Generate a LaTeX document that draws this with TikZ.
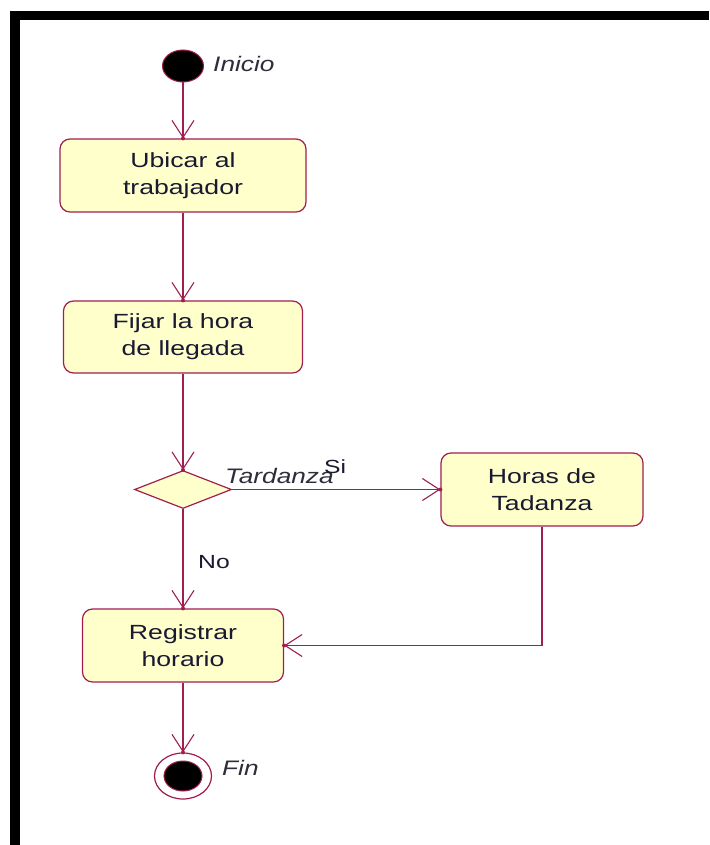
\documentclass[tikz,border=0pt]{standalone}
\usepackage{fontspec}
\setmainfont{Liberation Sans}
\newfontfamily\boxfont{Liberation Sans}[FakeStretch=1.3]
\newfontfamily\tagfont{Liberation Sans}[FakeStretch=1.25]
\usetikzlibrary{arrows.meta,shapes.geometric}
\definecolor{umlline}{RGB}{160,30,80}
\definecolor{umlfill}{RGB}{255,255,204}
\definecolor{umltext}{RGB}{25,25,50}
\definecolor{tagtext}{RGB}{45,45,60}
\begin{document}
\begin{tikzpicture}[x=1pt,y=-1pt,
  flow/.style={draw=umlline, line width=1.3pt,
    -{Straight Barb[length=17pt,width=22pt,line width=1.1pt]}},
  tipdot/.style={fill=umlline},
  action/.style={draw=umlline, line width=1.2pt, fill=umlfill,
    rounded corners=10pt, align=center, inner sep=0pt,
    font=\boxfont\fontsize{20.5pt}{27pt}\selectfont, text=umltext},
  decision/.style={diamond, draw=umlline, line width=1.2pt, fill=umlfill,
    minimum width=97pt, minimum height=38pt, inner sep=0pt},
  startnode/.style={ellipse, fill=black, draw=umlline, line width=1pt,
    minimum width=41pt, minimum height=32pt, inner sep=0pt},
  tag/.style={font=\tagfont\itshape\fontsize{21pt}{25pt}\selectfont,
    text=tagtext, anchor=base west, inner sep=0pt},
  guard/.style={font=\boxfont\fontsize{19pt}{23pt}\selectfont,
    text=umltext, anchor=base west, inner sep=0pt}]

% canvas and frame
\useasboundingbox (0,0) rectangle (709,845);
\fill[white] (0,0) rectangle (709,845);
\fill[black] (10,11) rectangle (709,20);
\fill[black] (10,11) rectangle (20,845);

% states and actions
\node[startnode] (start) at (183,66) {};
\node[tag] (startlbl) at (213,72) {Inicio};

\node[action, minimum width=246pt, minimum height=73pt] (ubicar) at (183,175.5) {Ubicar al\\trabajador};
\node[action, minimum width=239pt, minimum height=72pt] (fijar) at (183,337) {Fijar la hora\\de llegada};
\node[decision] (dec) at (183,489.5) {};
\node[action, minimum width=202pt, minimum height=73pt] (horas) at (542,489.5) {Horas de\\Tadanza};
\node[action, minimum width=201pt, minimum height=73pt] (reg) at (183,645.5) {Registrar\\horario};

\node[ellipse, draw=umlline, line width=1.2pt, fill=white,
  minimum width=57pt, minimum height=46pt, inner sep=0pt] (fin) at (183,776) {};
\node[ellipse, draw=umlline, line width=1pt, fill=black,
  minimum width=38pt, minimum height=30pt, inner sep=0pt] (fincore) at (fin) {};
\node[tag] (finlbl) at (222,775) {Fin};

% transitions
\draw[flow] (start) -- (ubicar);
\draw[flow] (ubicar) -- (fijar);
\draw[flow] (fijar) -- (dec);
\draw[flow] (dec) -- (reg);
\draw[flow] (dec.east) -- (horas.west);
\draw[flow] (horas.south) |- (reg.east);
\draw[flow] (reg) -- (fin);

% dots at the arrow tips
\foreach \p in {ubicar.north, fijar.north, dec.north, reg.north, horas.west, reg.east, fin.north}
  \fill[tipdot] (\p) circle (2pt);

% guards and labels
\node[tag] (tardlbl) at (225,483) {Tardanza};
\node[guard] (silbl) at (324,473) {Si};
\node[guard] (nolbl) at (198,568) {No};
\end{tikzpicture}
\end{document}
